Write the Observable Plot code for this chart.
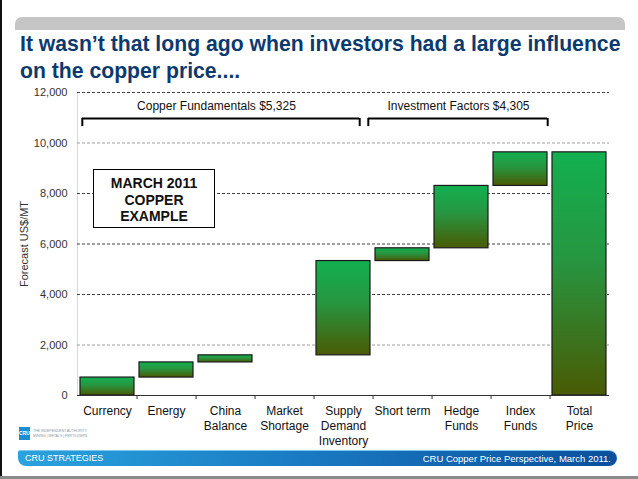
<!DOCTYPE html>
<html>
<head>
<meta charset="utf-8">
<script src="https://cdn.jsdelivr.net/npm/d3@7"></script>
<script src="https://cdn.jsdelivr.net/npm/@observablehq/plot@0.6"></script>
<style>
  html, body { margin: 0; padding: 0; background: #fff; }
  body { width: 638px; height: 479px; position: relative; overflow: hidden; font-family: "Liberation Sans", Arial, sans-serif; }
  .leftline { position: absolute; left: 0; top: 0; width: 2px; height: 477px; background: #111; }
  .bottomline { position: absolute; left: 0; top: 476px; width: 638px; height: 3px; background: #8a8a8a; }
  .topbar { position: absolute; left: 15px; top: 17px; width: 610px; height: 13px; background: #c5c5c5; border-radius: 7px 7px 0 0; }
  .title { position: absolute; left: 20px; top: 30px; width: 615px; font-weight: bold; font-size: 21.2px; line-height: 27px; color: #0d3a6e; white-space: nowrap; }
  #chart { position: absolute; left: 0; top: 85px; }
  .box { position: absolute; left: 93px; top: 169px; border: 1.5px solid #000; background: #fff; text-align: center; font-weight: bold; font-size: 14px; line-height: 16.5px; padding-top: 5px; box-sizing: border-box; height: 59px; width: 122px; color: #111; }
  .logo { position: absolute; left: 19px; top: 427px; width: 11px; height: 13px; background: #1d8fd0; color: #fff; font-size: 5px; font-weight: bold; line-height: 13px; text-align: center; }
  .logotext { position: absolute; left: 33px; top: 429px; font-size: 3.5px; line-height: 4.5px; color: #8a9aa8; white-space: nowrap; }
  .footer { position: absolute; left: 18px; top: 450px; width: 599px; height: 16px; border-radius: 2px 8px 8px 8px; background: linear-gradient(to right, #2aa3de 0%, #1a7cc4 45%, #0b4f9c 100%); border-top: 1px solid #7fc6ee; box-sizing: border-box; }
  .footer .l { position: absolute; left: 7px; top: 2px; font-size: 9px; color: #fff; }
  .footer .r { position: absolute; right: 6px; top: 1.5px; font-size: 9.5px; color: #fff; }
</style>
</head>
<body>
<div class="leftline"></div>
<div class="bottomline"></div>
<div class="topbar"></div>
<div class="title">It wasn’t that long ago when investors had a large influence<br>on the copper price....</div>
<div id="chart"></div>
<div class="box">MARCH 2011<br>COPPER<br>EXAMPLE</div>
<div class="logo">CRU</div>
<div class="logotext">THE INDEPENDENT AUTHORITY<br>MINING | METALS | FERTILIZERS</div>
<div class="footer"><span class="l">CRU STRATEGIES</span><span class="r">CRU Copper Price Perspective, March 2011.</span></div>
<script>
// ---- data ----
const categories = ["Currency", "Energy", "China\nBalance", "Market\nShortage", "Supply\nDemand\nInventory", "Short term", "Hedge\nFunds", "Index\nFunds", "Total\nPrice"];
const barStart = [0, 710, 1310, 1590, 1590, 5325, 5830, 8300, 0];
const barEnd   = [710, 1310, 1590, 1590, 5325, 5830, 8300, 9630, 9630];
const yTicks = [0, 2000, 4000, 6000, 8000, 10000, 12000];
const darkGrid = [4000, 6000, 8000, 12000];
const lightGrid = [2000, 10000];
const groupLabels = ["Copper Fundamentals $5,325", "Investment Factors $4,305"];
const groupFrom = ["Currency", "Short term"];
const groupTo = ["Supply\nDemand\nInventory", "Index\nFunds"];
const groupLabelAt = ["China\nBalance", "Hedge\nFunds"];

// ---- layout ----
const W = 638, H = 365, ML = 77, MR = 29, MT = 7, MB = 55;
const PI = 0.08, PO = 0.04;
const step = (W - ML - MR) / (categories.length - PI + 2 * PO);
const bw = step * (1 - PI);
const bracketTop = 10970, bracketBottom = 10650, labelY = 11450;

const bars = categories.map((c, i) => ({cat: c, start: barStart[i], end: barEnd[i]}))
  .filter(d => d.end !== d.start);
const groups = groupLabels.map((l, i) => ({label: l, from: groupFrom[i], to: groupTo[i], at: groupLabelAt[i]}));
const bracket = {stroke: "#000", strokeWidth: 2};

const plot = Plot.plot({
  width: W, height: H,
  marginLeft: ML, marginRight: MR, marginTop: MT, marginBottom: MB,
  style: {fontFamily: "Liberation Sans, Arial, sans-serif", background: "transparent", overflow: "visible"},
  x: {domain: categories, paddingInner: PI, paddingOuter: PO, label: null},
  y: {domain: [0, 12000], ticks: yTicks, label: null},
  marks: [
    Plot.frame({anchor: "left", stroke: "#d8d8d8"}),
    Plot.gridY(darkGrid, {stroke: "#222", strokeOpacity: 0.85, strokeDasharray: "3,2"}),
    Plot.gridY(lightGrid, {stroke: "#888", strokeOpacity: 0.8, strokeDasharray: "3,2"}),
    Plot.barY(bars, {x: "cat", y1: "start", y2: "end", fill: "url(#greenGrad)", stroke: "#1a1a1a", strokeWidth: 1.2}),
    Plot.ruleY([0], {stroke: "#333", strokeWidth: 1}),
    Plot.ruleX(categories.slice(0, -1), {x: d => d, y1: 0, y2: 0, dx: step / 2, insetBottom: -4, stroke: "#333"}),
    // brackets
    Plot.ruleY([groups[0]], {x1: "from", x2: "to", y: bracketTop, insetLeft: 2, insetRight: 11, ...bracket}),
    Plot.ruleY([groups[1]], {x1: "from", x2: "to", y: bracketTop, insetLeft: -7, insetRight: 0, ...bracket}),
    Plot.ruleX([groups[0]], {x: "from", y1: bracketBottom, y2: bracketTop, dx: -bw / 2 + 2, ...bracket}),
    Plot.ruleX([groups[0]], {x: "to", y1: bracketBottom, y2: bracketTop, dx: bw / 2 - 11, ...bracket}),
    Plot.ruleX([groups[1]], {x: "from", y1: bracketBottom, y2: bracketTop, dx: -bw / 2 - 7, ...bracket}),
    Plot.ruleX([groups[1]], {x: "to", y1: bracketBottom, y2: bracketTop, dx: bw / 2, ...bracket}),
    Plot.text([groups[0]], {x: "at", y: labelY, text: "label", dx: -9, fontSize: 12, fill: "#111"}),
    Plot.text([groups[1]], {x: "at", y: labelY, text: "label", dx: -3, fontSize: 12, fill: "#111"}),
    Plot.axisY({ticks: yTicks, tickSize: 0, tickPadding: 10, tickFormat: d3.format(","), fontSize: 11, color: "#333",
      label: "Forecast US$/MT", labelAnchor: "center", labelArrow: "none", labelOffset: 57}),
    Plot.axisX({tickSize: 0, tickPadding: 9, fontSize: 12, lineHeight: 1.25, color: "#111", label: null})
  ]
});

const svg = d3.select(plot);
const defs = svg.insert("defs", ":first-child");
const g = defs.append("linearGradient").attr("id", "greenGrad").attr("x1", 0).attr("y1", 0).attr("x2", 0).attr("y2", 1);
g.append("stop").attr("offset", "0%").attr("stop-color", "#12b050");
g.append("stop").attr("offset", "45%").attr("stop-color", "#279540");
g.append("stop").attr("offset", "100%").attr("stop-color", "#4a5a04");
document.getElementById("chart").appendChild(plot);
</script>
</body>
</html>
